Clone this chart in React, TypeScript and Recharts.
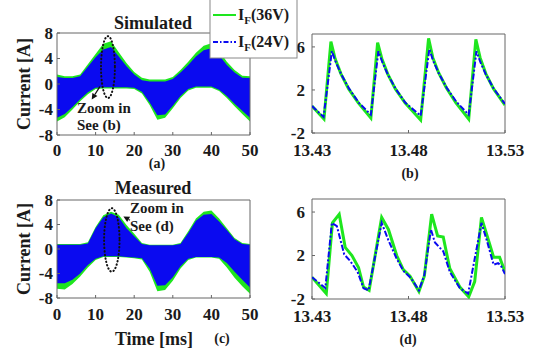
import React from 'react'
import {
  ComposedChart,
  Area,
  Line,
  XAxis,
  YAxis,
  ReferenceArea,
  ReferenceLine
} from 'recharts'

const FONT = "'Liberation Serif', 'Times New Roman', serif"
const GREEN = '#1ee61e'
const BLUE = '#0a0af0'
const INK = '#1a1a1a'

// full-period envelopes, sampled every 2 ms
const timeMs = [0, 2, 4, 6, 8, 10, 12, 14, 16, 18, 20, 22, 24, 26, 28, 30, 32, 34, 36, 38, 40, 42, 44, 46, 48, 50]

const sim36Hi = [1.5, 1.2, 1.2, 1.5, 3.1, 4.7, 6.3, 6.7, 5.0, 3.3, 1.9, 1.0, 0.7, 0.7, 0.7, 1.1, 2.2, 3.5, 4.9, 6.0, 6.4, 5.2, 3.5, 2.2, 1.3, 1.2]
const sim36Lo = [-5.9, -5.2, -4.0, -2.7, -1.6, -0.8, -0.7, -0.7, -0.7, -0.7, -0.8, -1.5, -3.3, -5.6, -5.3, -3.8, -2.2, -1.0, -0.6, -0.6, -0.6, -1.1, -2.2, -3.5, -4.7, -5.9]
const sim24Hi = [1.1, 0.95, 0.95, 1.2, 2.7, 4.2, 5.4, 5.8, 4.3, 2.8, 1.5, 0.6, 0.4, 0.4, 0.4, 0.8, 1.8, 3.0, 4.3, 5.3, 5.6, 4.5, 3.0, 1.8, 1.0, 0.95]
const sim24Lo = [-5.3, -4.7, -3.6, -2.4, -1.3, -0.6, -0.5, -0.5, -0.5, -0.5, -0.6, -1.2, -2.9, -4.9, -4.8, -3.4, -1.9, -0.8, -0.4, -0.4, -0.4, -0.9, -1.9, -3.1, -4.2, -5.3]

const meas36Hi = [0.8, 0.8, 0.8, 0.8, 1.1, 3.6, 5.5, 6.1, 5.6, 3.9, 2.5, 1.0, 0.7, 0.7, 0.7, 0.7, 1.0, 2.9, 5.0, 6.1, 6.3, 5.0, 3.4, 1.8, 1.0, 0.8]
const meas36Lo = [-6.5, -6.6, -5.7, -4.5, -3.0, -1.8, -1.3, -1.3, -1.3, -1.4, -1.5, -1.7, -3.7, -6.9, -6.7, -5.2, -3.2, -1.8, -1.4, -1.4, -1.4, -1.6, -3.0, -4.7, -6.1, -7.3]
const meas24Hi = [0.7, 0.7, 0.7, 0.7, 0.9, 3.4, 5.2, 5.8, 5.2, 3.4, 2.1, 0.8, 0.6, 0.6, 0.6, 0.6, 0.8, 2.6, 4.6, 5.6, 5.7, 4.5, 3.1, 1.6, 0.8, 0.7]
const meas24Lo = [-5.6, -5.6, -5.0, -4.0, -2.6, -1.6, -1.2, -1.2, -1.2, -1.3, -1.4, -1.5, -3.2, -6.0, -5.9, -4.6, -2.8, -1.6, -1.3, -1.3, -1.3, -1.4, -2.3, -3.7, -5.0, -6.3]

// zoomed windows (13.43 - 13.53 ms)
const simZoomT36 = [13.43, 13.4362, 13.4398, 13.442, 13.445, 13.449, 13.454, 13.4605, 13.464, 13.4662, 13.4692, 13.4732, 13.4782, 13.4863, 13.4904, 13.4926, 13.4956, 13.4996, 13.5046, 13.5112, 13.5149, 13.5171, 13.5201, 13.5241, 13.53]
const simZoomV36 = [0.5, -0.7, 6.5, 4.9, 3.5, 2.1, 0.8, -0.6, 6.4, 4.9, 3.5, 2.1, 0.8, -0.8, 6.8, 5.0, 3.6, 2.2, 0.8, -0.7, 6.7, 5.0, 3.5, 2.1, 0.6]
const simZoomT24 = [13.43, 13.436, 13.4403, 13.4423, 13.4453, 13.4493, 13.4543, 13.4605, 13.4644, 13.4664, 13.4694, 13.4734, 13.4784, 13.4863, 13.4908, 13.4928, 13.4958, 13.4998, 13.5048, 13.5112, 13.5152, 13.5172, 13.5202, 13.5242, 13.53]
const simZoomV24 = [0.5, -0.5, 5.6, 4.6, 3.4, 2.1, 0.8, -0.3, 5.6, 4.6, 3.4, 2.1, 0.8, -0.4, 5.8, 4.7, 3.5, 2.2, 0.9, -0.3, 5.6, 4.6, 3.4, 2.1, 0.7]

const measZoomT36 = [13.43, 13.4374, 13.4406, 13.4441, 13.4472, 13.4507, 13.4541, 13.4567, 13.4596, 13.4661, 13.4696, 13.4739, 13.4773, 13.4808, 13.4854, 13.4882, 13.492, 13.4937, 13.4951, 13.498, 13.5014, 13.5066, 13.5112, 13.5143, 13.5178, 13.5204, 13.5241, 13.5272, 13.53]
const measZoomV36 = [0.0, -1.5, 5.0, 5.8, 2.75, 2.0, 0.9, -0.9, -1.2, 5.5, 4.4, 2.0, 0.7, 0.1, -1.3, 0.1, 5.8, 4.7, 3.8, 3.7, 0.8, -0.9, -1.8, -0.4, 5.5, 4.0, 1.85, 1.85, 0.5]
const measZoomT24 = [13.43, 13.4369, 13.4403, 13.4429, 13.4467, 13.4498, 13.4536, 13.4567, 13.4593, 13.4661, 13.4696, 13.4739, 13.4773, 13.4808, 13.4825, 13.4854, 13.4882, 13.4916, 13.4937, 13.4963, 13.498, 13.5014, 13.5066, 13.5109, 13.5178, 13.5204, 13.5241, 13.5264, 13.5278, 13.53]
const measZoomV24 = [0.0, -1.0, 5.0, 4.7, 2.1, 1.5, 0.5, -1.0, -1.2, 5.0, 3.4, 1.7, 0.6, 0.0, -0.4, -1.2, 0.2, 4.4, 3.2, 2.7, 2.4, 0.5, -1.0, -1.5, 5.0, 3.5, 1.15, 1.3, 1.1, 0.3]

const fullTimeTicks = [0, 10, 20, 30, 40, 50]
const fullCurrentTicks = [-8, -4, 0, 4, 8]
const zoomTimeTicks = [13.43, 13.48, 13.53]
const zoomCurrentTicks = [-2, 2, 6]

const simData = timeMs.map((t, i) => ({ t, g: [sim36Lo[i], sim36Hi[i]], b: [sim24Lo[i], sim24Hi[i]] }))
const measData = timeMs.map((t, i) => ({ t, g: [meas36Lo[i], meas36Hi[i]], b: [meas24Lo[i], meas24Hi[i]] }))
const toPoints = (ts: number[], vs: number[]) => ts.map((t, i) => ({ t, v: vs[i] }))

const txt = { fontFamily: FONT, fontWeight: 'bold', fill: INK } as const

// bold serif tick labels plus a short inward tick mark (MATLAB style)
const xTick = (gap: number) => (p: any) => (
  <g>
    <line x1={p.x} y1={p.y - gap} x2={p.x} y2={p.y - gap - 3} stroke="#666" />
    <text {...txt} x={p.x} y={p.y} dy="0.71em" fontSize={17} textAnchor="middle">{p.payload.value}</text>
  </g>
)
const yTick = (gap: number) => (p: any) => (
  <g>
    <line x1={p.x + gap} y1={p.y} x2={p.x + gap + 3} y2={p.y} stroke="#666" />
    <text {...txt} x={p.x} y={p.y} dy="0.35em" fontSize={17} textAnchor="end">{p.payload.value}</text>
  </g>
)

const EllipseShape = (p: any) => (
  <ellipse
    cx={p.x + p.width / 2}
    cy={p.y + p.height / 2}
    rx={Math.abs(p.width) / 2}
    ry={Math.abs(p.height) / 2}
    fill="none"
    stroke="#111"
    strokeWidth={2}
    strokeDasharray="0.5 3"
    strokeLinecap="round"
  />
)

const ArrowShape = (p: any) => {
  const { x1, y1, x2, y2 } = p
  const a = Math.atan2(y2 - y1, x2 - x1)
  const bx = x2 - 6 * Math.cos(a)
  const by = y2 - 6 * Math.sin(a)
  const pts = `${x2},${y2} ${bx - 3 * Math.sin(a)},${by + 3 * Math.cos(a)} ${bx + 3 * Math.sin(a)},${by - 3 * Math.cos(a)}`
  return (
    <g>
      <line x1={x1} y1={y1} x2={bx} y2={by} stroke="#111" strokeWidth={1.3} />
      <polygon points={pts} fill="#111" />
    </g>
  )
}

interface EnvProps {
  data: any[]
  top: number
  mTop: number
  mBottom: number
  tickGap: number
  ellipse: { x1: number; x2: number; y1: number; y2: number }
  arrow: { x: number; y: number }[]
}

const EnvelopePanel = ({ data, top, mTop, mBottom, tickGap, ellipse, arrow }: EnvProps) => (
  <div style={{ position: 'absolute', left: 0, top }}>
    <ComposedChart width={270} height={175} data={data} margin={{ top: mTop, right: 20, bottom: mBottom, left: 17 }}>
      <XAxis dataKey="t" type="number" domain={[0, 50]} ticks={fullTimeTicks} interval={0}
        tickLine={false} axisLine={false} tickSize={0} tickMargin={tickGap} height={30} tick={xTick(tickGap)} />
      <YAxis type="number" domain={[-8, 8]} ticks={fullCurrentTicks} interval={0}
        tickLine={false} axisLine={false} tickSize={0} tickMargin={4} width={40} tick={yTick(4)} />
      <Area dataKey="g" type="linear" stroke="none" fill={GREEN} fillOpacity={1} isAnimationActive={false} />
      <Area dataKey="b" type="linear" stroke="none" fill={BLUE} fillOpacity={1} isAnimationActive={false} />
      <ReferenceArea x1={0} x2={50} y1={-8} y2={8} fill="none" stroke="#666" strokeWidth={1} />
      <ReferenceArea x1={ellipse.x1} x2={ellipse.x2} y1={ellipse.y1} y2={ellipse.y2} shape={EllipseShape} />
      <ReferenceLine segment={arrow} shape={ArrowShape} />
    </ComposedChart>
  </div>
)

interface ZoomProps {
  s36: { t: number; v: number }[]
  s24: { t: number; v: number }[]
  top: number
  mTop: number
  mBottom: number
  tickGap: number
}

const ZoomPanel = ({ s36, s24, top, mTop, mBottom, tickGap }: ZoomProps) => (
  <div style={{ position: 'absolute', left: 270, top }}>
    <ComposedChart width={270} height={175} margin={{ top: mTop, right: 35, bottom: mBottom, left: 2 }}>
      <XAxis dataKey="t" type="number" domain={[13.43, 13.53]} ticks={zoomTimeTicks} interval={0} allowDataOverflow
        tickLine={false} axisLine={false} tickSize={0} tickMargin={tickGap} height={30} tick={xTick(tickGap)} />
      <YAxis type="number" domain={[-2, 7.2]} ticks={zoomCurrentTicks} interval={0} allowDataOverflow
        tickLine={false} axisLine={false} tickSize={0} tickMargin={7} width={40} tick={yTick(7)} />
      <ReferenceArea x1={13.43} x2={13.53} y1={-2} y2={7.2} fill="none" stroke="#666" strokeWidth={1} />
      <Line data={s36} dataKey="v" type="linear" stroke={GREEN} strokeWidth={3} dot={false} isAnimationActive={false} />
      <Line data={s24} dataKey="v" type="linear" stroke={BLUE} strokeWidth={2} strokeDasharray="6 2 2 2"
        dot={false} isAnimationActive={false} />
    </ComposedChart>
  </div>
)

export default function App() {
  return (
    <div style={{ position: 'absolute', left: 0, top: 0, width: 541, height: 350, background: '#fff', overflow: 'hidden' }}>
      <EnvelopePanel data={simData} top={0} mTop={33} mBottom={10} tickGap={9}
        ellipse={{ x1: 11.4, x2: 15.0, y1: -2.2, y2: 7.5 }}
        arrow={[{ x: 11.1, y: -0.4 }, { x: 9.0, y: -2.45 }]} />
      <EnvelopePanel data={measData} top={175} mTop={25} mBottom={22} tickGap={10}
        ellipse={{ x1: 12.2, x2: 16.2, y1: -3.7, y2: 6.65 }}
        arrow={[{ x: 18.9, y: 4.7 }, { x: 17.2, y: 5.3 }]} />
      <ZoomPanel s36={toPoints(simZoomT36, simZoomV36)} s24={toPoints(simZoomT24, simZoomV24)}
        top={0} mTop={34} mBottom={12} tickGap={11} />
      <ZoomPanel s36={toPoints(measZoomT36, measZoomV36)} s24={toPoints(measZoomT24, measZoomV24)}
        top={175} mTop={24} mBottom={21} tickGap={11} />

      <svg width={541} height={350} style={{ position: 'absolute', left: 0, top: 0, pointerEvents: 'none' }}>
        <text {...txt} x={153} y={29} fontSize={18} textAnchor="middle">Simulated</text>
        <text {...txt} x={153} y={194} fontSize={18} textAnchor="middle">Measured</text>
        <text {...txt} fontSize={18} textAnchor="middle" transform="translate(30,84) rotate(-90)">Current [A]</text>
        <text {...txt} fontSize={18} textAnchor="middle" transform="translate(30,249) rotate(-90)">Current [A]</text>
        <text {...txt} x={154} y={345} fontSize={18} textAnchor="middle">Time [ms]</text>

        <text {...txt} x={157} y={168} fontSize={14} textAnchor="middle">(a)</text>
        <text {...txt} x={410} y={178} fontSize={14} textAnchor="middle">(b)</text>
        <text {...txt} x={222} y={343} fontSize={14} textAnchor="middle">(c)</text>
        <text {...txt} x={408} y={344} fontSize={14} textAnchor="middle">(d)</text>

        <text {...txt} x={77} y={113} fontSize={15}>Zoom in</text>
        <text {...txt} x={77} y={130} fontSize={15}>See (b)</text>
        <text {...txt} x={130} y={213} fontSize={15}>Zoom in</text>
        <text {...txt} x={130} y={231} fontSize={15}>See (d)</text>

        <rect x={210} y={-2} width={87} height={60} fill="#fff" stroke="#888" strokeWidth={1} />
        <line x1={213} y1={15} x2={236} y2={15} stroke={GREEN} strokeWidth={2} />
        <text {...txt} x={238} y={20} fontSize={16}>
          I<tspan fontSize={11} dy={4}>F</tspan><tspan dy={-4}>(36V)</tspan>
        </text>
        <line x1={213} y1={42} x2={236} y2={42} stroke={BLUE} strokeWidth={2} strokeDasharray="5 2 1.5 2" />
        <text {...txt} x={238} y={47} fontSize={16}>
          I<tspan fontSize={11} dy={4}>F</tspan><tspan dy={-4}>(24V)</tspan>
        </text>
      </svg>
    </div>
  )
}
